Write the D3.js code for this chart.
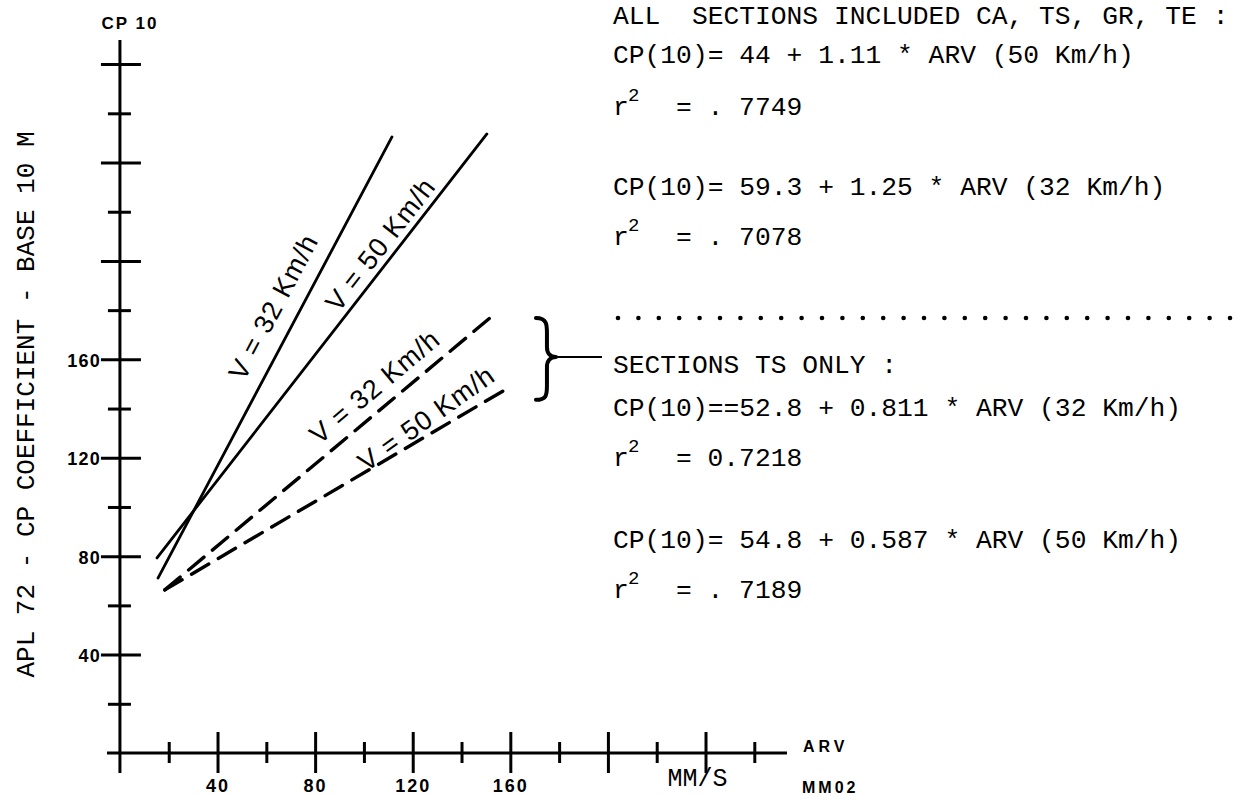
<!DOCTYPE html>
<html>
<head>
<meta charset="utf-8">
<script src="https://cdn.jsdelivr.net/npm/d3@7"></script>
<style>
  html, body { margin: 0; padding: 0; background: #fff; }
  svg { display: block; }
  text { white-space: pre; }
</style>
</head>
<body>
<script>
// ---- Axis ticks (ARV in mm/s, CP(10) coefficient) ----
const yTicksMajor = [40, 80, 120, 160, 200, 240, 280];
const yTicksMinor = [20, 60, 100, 140, 180, 220, 260];
const yTickLabels = [40, 80, 120, 160];
const xTicksMajor = [40, 80, 120, 160, 200, 240];
const xTicksMinor = [20, 60, 100, 140, 180, 220, 260];
const xTickLabels = [40, 80, 120, 160];
const xUnitTick = 240;

// ---- Regression lines: [start, end] in ARV and CP(10) ----
const lineNames   = ["V = 32 Km/h", "V = 50 Km/h", "V = 32 Km/h", "V = 50 Km/h"];
const lineGroups  = ["all", "all", "ts", "ts"];
const lineARV     = [[15.6, 111.5], [15.2, 150.4], [18.4, 151.6], [18.4, 157.8]];
const lineCP      = [[71.1, 250.4], [79.3, 251.6], [66.3, 176.8], [66.3, 147.6]];

// ---- Regression equations ----
const allHeader = "ALL  SECTIONS INCLUDED CA, TS, GR, TE :";
const tsHeader  = "SECTIONS TS ONLY :";
const allEquations = ["CP(10)= 44 + 1.11 * ARV (50 Km/h)", "CP(10)= 59.3 + 1.25 * ARV (32 Km/h)"];
const allR2        = ["= . 7749", "= . 7078"];
const tsEquations  = ["CP(10)==52.8 + 0.811 * ARV (32 Km/h)", "CP(10)= 54.8 + 0.587 * ARV (50 Km/h)"];
const tsR2         = ["= 0.7218", "= . 7189"];

const W = 1238, H = 796;
const svg = d3.select("body").append("svg").attr("width", W).attr("height", H);

const x = d3.scaleLinear().domain([-5.3, 273.4]).range([107, 787]);
const y = d3.scaleLinear().domain([0, 289.8]).range([753, 40]);

const mono = "'Liberation Mono', 'DejaVu Sans Mono', monospace";
const sans = "'Liberation Sans', Arial, sans-serif";
const AX = 3;

// ---- Y axis ----
svg.append("line").attr("x1", x(0)).attr("x2", x(0)).attr("y1", y(289.8)).attr("y2", y(0) + 20)
  .attr("stroke", "#000").attr("stroke-width", AX);

const yMajor = svg.append("g").attr("transform", `translate(${x(0)},0)`)
  .call(d3.axisLeft(y).tickValues(yTicksMajor).tickSizeOuter(0).tickSizeInner(16).tickPadding(3)
        .tickFormat(d => yTickLabels.includes(d) ? d : ""));
yMajor.select(".domain").remove();
yMajor.selectAll(".tick line").attr("x1", 21).attr("x2", -19).attr("stroke", "#000").attr("stroke-width", AX);
yMajor.selectAll(".tick text").attr("x", -19).attr("dy", "0.4em")
  .attr("font-family", sans).attr("font-weight", "bold").attr("font-size", 18)
  .attr("letter-spacing", 1.2).attr("fill", "#000");

const yMinor = svg.append("g").attr("transform", `translate(${x(0)},0)`)
  .call(d3.axisLeft(y).tickValues(yTicksMinor).tickSizeOuter(0).tickSizeInner(12).tickFormat(""));
yMinor.select(".domain").remove();
yMinor.selectAll(".tick line").attr("x1", 11).attr("x2", -12).attr("stroke", "#000").attr("stroke-width", AX);

svg.append("text").attr("x", x(0) + 10).attr("y", 29).attr("text-anchor", "middle")
  .attr("font-family", sans).attr("font-weight", "bold").attr("font-size", 17)
  .attr("letter-spacing", 2).text("CP 10");

svg.append("text")
  .attr("transform", `translate(34,${(132 + 677) / 2}) rotate(-90)`)
  .attr("text-anchor", "middle")
  .attr("font-family", mono).attr("font-size", 26)
  .text("APL 72 - CP COEFFICIENT - BASE 10 M");

// ---- X axis ----
svg.append("line").attr("x1", x(-5.3)).attr("x2", x(273.4)).attr("y1", y(0)).attr("y2", y(0))
  .attr("stroke", "#000").attr("stroke-width", AX);

const xMajor = svg.append("g").attr("transform", `translate(0,${y(0)})`)
  .call(d3.axisBottom(x).tickValues(xTicksMajor).tickSizeOuter(0).tickSizeInner(20).tickPadding(6)
        .tickFormat(d => xTickLabels.includes(d) ? d : ""));
xMajor.select(".domain").remove();
xMajor.selectAll(".tick line").attr("y1", -21).attr("y2", 20).attr("stroke", "#000").attr("stroke-width", AX);
xMajor.selectAll(".tick text").attr("y", 39).attr("dy", 0)
  .attr("font-family", sans).attr("font-weight", "bold").attr("font-size", 18)
  .attr("letter-spacing", 2).attr("fill", "#000");

const xMinor = svg.append("g").attr("transform", `translate(0,${y(0)})`)
  .call(d3.axisBottom(x).tickValues(xTicksMinor).tickSizeOuter(0).tickSizeInner(10).tickFormat(""));
xMinor.select(".domain").remove();
xMinor.selectAll(".tick line").attr("y1", -11).attr("y2", 10).attr("stroke", "#000").attr("stroke-width", AX);

svg.append("text").attr("x", x(xUnitTick) - 8).attr("y", 786).attr("text-anchor", "middle")
  .attr("font-family", mono).attr("font-size", 25).text("MM/S");
svg.append("text").attr("x", 803).attr("y", 752)
  .attr("font-family", sans).attr("font-weight", "bold").attr("font-size", 16)
  .attr("letter-spacing", 4).text("ARV");
svg.append("text").attr("x", 802).attr("y", 793)
  .attr("font-family", sans).attr("font-weight", "bold").attr("font-size", 16)
  .attr("letter-spacing", 3).text("MM02");

// ---- Regression lines ----
const lines = lineNames.map((name, i) => ({
  name, group: lineGroups[i],
  p: [[lineARV[i][0], lineCP[i][0]], [lineARV[i][1], lineCP[i][1]]]
}));
const lineGen = d3.line().x(d => x(d[0])).y(d => y(d[1]));

svg.append("g").selectAll("path").data(lines).join("path")
  .attr("d", d => lineGen(d.p))
  .attr("fill", "none").attr("stroke", "#000")
  .attr("stroke-width", d => d.group === "all" ? 2.8 : 3.4)
  .attr("stroke-dasharray", d => d.group === "all" ? null : "20 11")
  .attr("stroke-linecap", "round");

// Labels written along each line: ARV at the text centre, baseline offset, extra tilt
const labelAt     = [72, 112, 110, 129];
const labelOffset = [16, 7, 12, 6];
const labelTilt   = [0, 0, 0, -5];
lines.forEach((d, i) => {
  const [a, b] = d.p;
  const x1 = x(a[0]), y1 = y(a[1]), x2 = x(b[0]), y2 = y(b[1]);
  const t = (x(labelAt[i]) - x1) / (x2 - x1);
  const px = x1 + t * (x2 - x1), py = y1 + t * (y2 - y1);
  const ang = Math.atan2(y2 - y1, x2 - x1);
  const nx = Math.sin(ang), ny = -Math.cos(ang);
  svg.append("text")
    .attr("transform", `translate(${px + nx * labelOffset[i]},${py + ny * labelOffset[i]}) rotate(${ang * 180 / Math.PI + labelTilt[i]})`)
    .attr("text-anchor", "middle")
    .attr("font-family", sans).attr("font-size", 27).attr("letter-spacing", 1)
    .text(d.name);
});

// ---- Brace grouping the TS-only lines ----
const bTop = y(lineCP[2][1]), bBot = y(lineCP[3][1]) + 10, bMid = (bTop + bBot) / 2 - 2;
const bx = x(lineARV[3][1]) + 31;
svg.append("path")
  .attr("d", `M${bx},${bTop} C${bx + 12},${bTop} ${bx + 11},${bTop + 8} ${bx + 11},${bTop + 18}
              L${bx + 11},${bMid - 10} C${bx + 11},${bMid - 4} ${bx + 14},${bMid} ${bx + 20},${bMid}
              C${bx + 14},${bMid} ${bx + 11},${bMid + 4} ${bx + 11},${bMid + 10}
              L${bx + 11},${bBot - 14} C${bx + 11},${bBot - 4} ${bx + 10},${bBot} ${bx},${bBot}`)
  .attr("fill", "none").attr("stroke", "#000").attr("stroke-width", 4)
  .attr("stroke-linecap", "round").attr("stroke-linejoin", "round");
svg.append("line").attr("x1", bx + 20).attr("x2", 602).attr("y1", bMid).attr("y2", bMid)
  .attr("stroke", "#000").attr("stroke-width", 2);

// ---- Equation block ----
const tx = 613, fs = 26.3;
function textLine(str, yy) {
  svg.append("text").attr("x", tx).attr("y", yy)
    .attr("font-family", mono).attr("font-size", fs).text(str);
}
function r2Line(val, yy) {
  svg.append("text").attr("x", tx).attr("y", yy).attr("font-family", mono).attr("font-size", fs).text("r");
  svg.append("text").attr("x", tx + 15).attr("y", yy - 14).attr("font-family", mono).attr("font-size", 19).text("2");
  svg.append("text").attr("x", 676).attr("y", yy).attr("font-family", mono).attr("font-size", fs).text(val);
}
textLine(allHeader, 24);
textLine(allEquations[0], 63);  r2Line(allR2[0], 115);
textLine(allEquations[1], 195); r2Line(allR2[1], 245);

// dotted separator
svg.append("g").selectAll("circle").data(d3.range(31)).join("circle")
  .attr("cx", i => 618 + i * 20.4).attr("cy", 318).attr("r", 2.3).attr("fill", "#000");

textLine(tsHeader, 373);
textLine(tsEquations[0], 416); r2Line(tsR2[0], 466);
textLine(tsEquations[1], 548); r2Line(tsR2[1], 598);
</script>
</body>
</html>
